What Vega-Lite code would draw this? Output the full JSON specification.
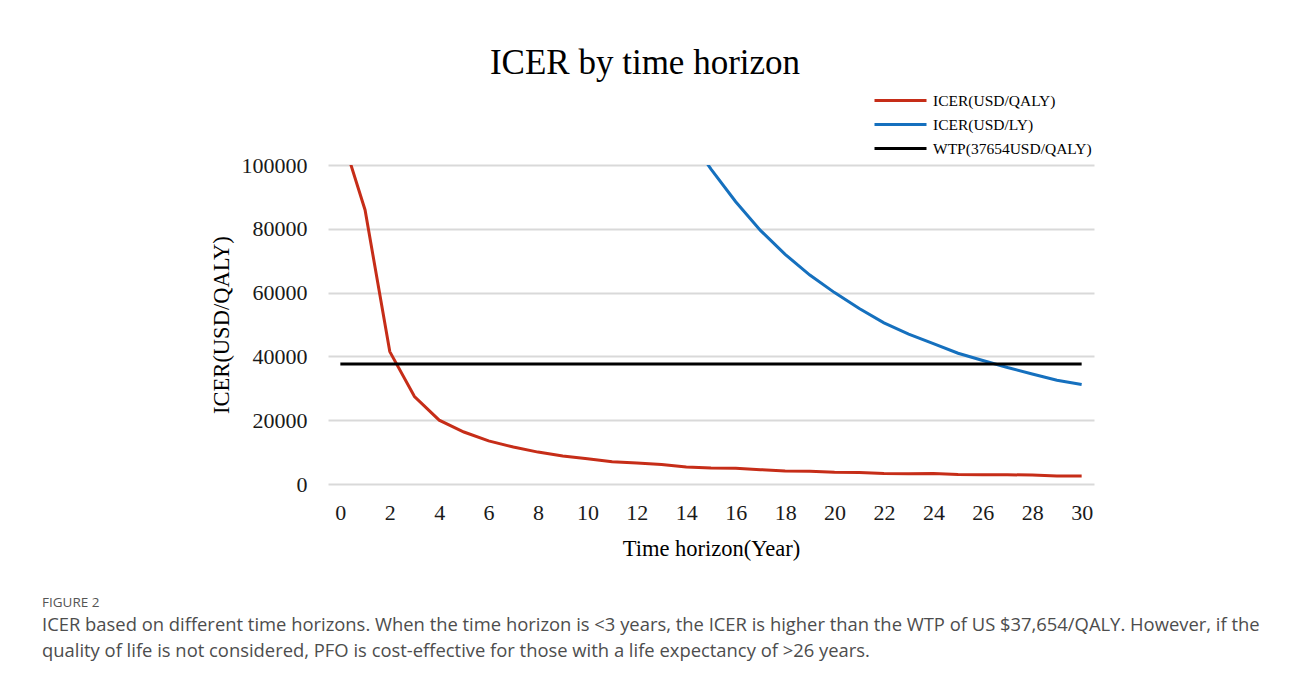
{
  "$schema": "https://vega.github.io/schema/vega-lite/v6.json",
  "background": "white",
  "padding": {"left": 42, "top": 46, "right": 0, "bottom": 0},
  "title": {
    "text": "FIGURE 2",
    "subtitle": [
      "ICER based on different time horizons. When the time horizon is <3 years, the ICER is higher than the WTP of US $37,654/QALY. However, if the",
      "quality of life is not considered, PFO is cost-effective for those with a life expectancy of >26 years."
    ],
    "orient": "bottom",
    "anchor": "start",
    "frame": "bounds",
    "font": "Open Sans",
    "fontSize": 13.5,
    "fontWeight": "normal",
    "color": "#555555",
    "subtitleFont": "Open Sans",
    "subtitleFontSize": 18.4,
    "subtitleColor": "#4d4d4d",
    "subtitleLineHeight": 26,
    "subtitlePadding": 7,
    "offset": 36,
    "dx": -168
  },
  "datasets": {
    "d": [
      {"series": "ICER(USD/QALY)", "year": 0, "value": 110600},
      {"series": "ICER(USD/QALY)", "year": 1, "value": 85900},
      {"series": "ICER(USD/QALY)", "year": 2, "value": 41500},
      {"series": "ICER(USD/QALY)", "year": 3, "value": 27400},
      {"series": "ICER(USD/QALY)", "year": 4, "value": 20000},
      {"series": "ICER(USD/QALY)", "year": 5, "value": 16300},
      {"series": "ICER(USD/QALY)", "year": 6, "value": 13500},
      {"series": "ICER(USD/QALY)", "year": 7, "value": 11600},
      {"series": "ICER(USD/QALY)", "year": 8, "value": 10000},
      {"series": "ICER(USD/QALY)", "year": 9, "value": 8800},
      {"series": "ICER(USD/QALY)", "year": 10, "value": 7900},
      {"series": "ICER(USD/QALY)", "year": 11, "value": 7000},
      {"series": "ICER(USD/QALY)", "year": 12, "value": 6600},
      {"series": "ICER(USD/QALY)", "year": 13, "value": 6100},
      {"series": "ICER(USD/QALY)", "year": 14, "value": 5300},
      {"series": "ICER(USD/QALY)", "year": 15, "value": 5000},
      {"series": "ICER(USD/QALY)", "year": 16, "value": 4900},
      {"series": "ICER(USD/QALY)", "year": 17, "value": 4500},
      {"series": "ICER(USD/QALY)", "year": 18, "value": 4100},
      {"series": "ICER(USD/QALY)", "year": 19, "value": 4000},
      {"series": "ICER(USD/QALY)", "year": 20, "value": 3700},
      {"series": "ICER(USD/QALY)", "year": 21, "value": 3600},
      {"series": "ICER(USD/QALY)", "year": 22, "value": 3300},
      {"series": "ICER(USD/QALY)", "year": 23, "value": 3200},
      {"series": "ICER(USD/QALY)", "year": 24, "value": 3300},
      {"series": "ICER(USD/QALY)", "year": 25, "value": 3000},
      {"series": "ICER(USD/QALY)", "year": 26, "value": 2900},
      {"series": "ICER(USD/QALY)", "year": 27, "value": 2900},
      {"series": "ICER(USD/QALY)", "year": 28, "value": 2800},
      {"series": "ICER(USD/QALY)", "year": 29, "value": 2500},
      {"series": "ICER(USD/QALY)", "year": 30, "value": 2500},
      {"series": "ICER(USD/LY)", "year": 14, "value": 110000},
      {"series": "ICER(USD/LY)", "year": 15, "value": 98700},
      {"series": "ICER(USD/LY)", "year": 16, "value": 88500},
      {"series": "ICER(USD/LY)", "year": 17, "value": 79500},
      {"series": "ICER(USD/LY)", "year": 18, "value": 72000},
      {"series": "ICER(USD/LY)", "year": 19, "value": 65500},
      {"series": "ICER(USD/LY)", "year": 20, "value": 60000},
      {"series": "ICER(USD/LY)", "year": 21, "value": 55000},
      {"series": "ICER(USD/LY)", "year": 22, "value": 50500},
      {"series": "ICER(USD/LY)", "year": 23, "value": 47000},
      {"series": "ICER(USD/LY)", "year": 24, "value": 44000},
      {"series": "ICER(USD/LY)", "year": 25, "value": 41000},
      {"series": "ICER(USD/LY)", "year": 26, "value": 38700},
      {"series": "ICER(USD/LY)", "year": 27, "value": 36500},
      {"series": "ICER(USD/LY)", "year": 28, "value": 34500},
      {"series": "ICER(USD/LY)", "year": 29, "value": 32500},
      {"series": "ICER(USD/LY)", "year": 30, "value": 31200},
      {"series": "WTP(37654USD/QALY)", "year": 0, "value": 37654},
      {"series": "WTP(37654USD/QALY)", "year": 30, "value": 37654}
    ]
  },
  "vconcat": [
    {
      "width": 766,
      "height": 319,
      "title": {
        "text": "ICER by time horizon",
        "anchor": "middle",
        "frame": "group",
        "font": "Liberation Serif",
        "fontSize": 35,
        "fontWeight": "normal",
        "color": "#000000",
        "dx": -66,
        "offset": 73
      },
      "data": {"name": "d"},
      "mark": {"type": "line", "clip": true, "strokeWidth": 3},
      "encoding": {
        "x": {
          "field": "year",
          "type": "quantitative",
          "scale": {"domain": [-0.5, 30.5], "nice": false, "zero": false},
          "axis": {
            "values": [0, 2, 4, 6, 8, 10, 12, 14, 16, 18, 20, 22, 24, 26, 28, 30],
            "title": "Time horizon(Year)",
            "grid": false,
            "domain": false,
            "ticks": false,
            "labelPadding": 18,
            "titlePadding": 14
          }
        },
        "y": {
          "field": "value",
          "type": "quantitative",
          "scale": {"domain": [0, 100000], "nice": false},
          "axis": {
            "values": [0, 20000, 40000, 60000, 80000, 100000],
            "format": "d",
            "title": "ICER(USD/QALY)",
            "grid": true,
            "gridColor": "#d9d9d9",
            "gridWidth": 2,
            "domain": false,
            "ticks": false,
            "labelPadding": 21,
            "titlePadding": 8
          }
        },
        "color": {
          "field": "series",
          "type": "nominal",
          "scale": {
            "domain": ["ICER(USD/QALY)", "ICER(USD/LY)", "WTP(37654USD/QALY)"],
            "range": ["#C62D18", "#1570BE", "#000000"]
          },
          "legend": {
            "title": null,
            "orient": "none",
            "legendX": 545,
            "legendY": -76,
            "symbolType": "M-1,0H4.2",
            "symbolSize": 400,
            "symbolStrokeWidth": 3,
            "labelFont": "Liberation Serif",
            "labelFontSize": 15.5,
            "labelColor": "#000000",
            "labelOffset": 37,
            "rowPadding": 4,
            "padding": 0
          }
        }
      }
    }
  ],
  "config": {
    "font": "Liberation Serif",
    "view": {"stroke": null},
    "axis": {
      "labelFont": "Liberation Serif",
      "labelFontSize": 22,
      "labelColor": "#1a1a1a",
      "titleFont": "Liberation Serif",
      "titleFontSize": 22.5,
      "titleFontWeight": "normal",
      "titleColor": "#000000"
    }
  }
}
